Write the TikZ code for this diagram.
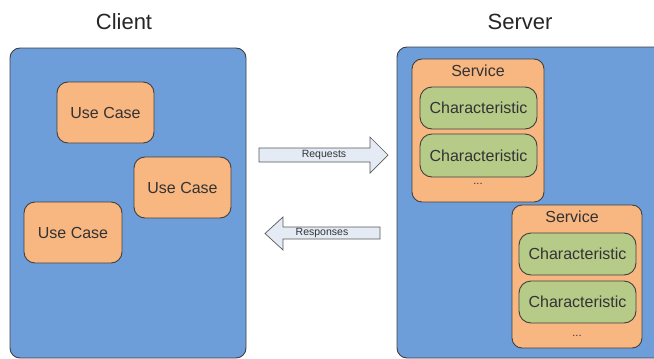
\documentclass[tikz,border=0pt]{standalone}
\usepackage{fontspec}
\setmainfont{Liberation Sans}
\begin{document}
\begin{tikzpicture}[x=1pt,y=-1pt,
  edge/.style={draw=black!75,line width=0.9pt},
  panel/.style={edge,fill=panelblue,rounded corners=10pt},
  usecase/.style={edge,fill=boxorange,rounded corners=11pt},
  service/.style={edge,fill=boxorange,rounded corners=10pt},
  charac/.style={edge,fill=chargreen,rounded corners=12pt},
  label/.style={inner sep=0pt,text=black!80,font=\fontsize{16}{18}\selectfont},
  title/.style={inner sep=0pt,text=black!85,font=\fontsize{22}{24}\selectfont},
  flow/.style={draw=black!65,line width=0.7pt,fill=arrowfill},
  flowtext/.style={inner sep=0pt,text=black!80,font=\fontsize{10.5}{12}\selectfont}
]
\definecolor{panelblue}{RGB}{110,158,218}
\definecolor{boxorange}{RGB}{248,182,128}
\definecolor{chargreen}{RGB}{183,203,136}
\definecolor{arrowfill}{RGB}{228,235,245}

\useasboundingbox (0,0) rectangle (654,359);

% titles
\node[title] (clientT) at (124,22) {Client};
\node[title] (serverT) at (520,22) {Server};

% client panel with use cases
\path[panel] (10,48) rectangle (246,358);
\path[usecase] (57,82) rectangle (154,143);
\node[label] (uc1) at (105.5,112.5) {Use Case};
\path[usecase] (134,157) rectangle (231,218);
\node[label] (uc2) at (182.5,187.5) {Use Case};
\path[usecase] (24,202) rectangle (122,263);
\node[label] (uc3) at (73,232.5) {Use Case};

% server panel
\path[panel] (397,47) rectangle (664,358);

% first service
\path[service] (412,59) rectangle (544,202);
\node[label] (s1) at (478,71) {Service};
\path[charac] (420,87) rectangle (537,129);
\node[label] (c1) at (478.5,108) {Characteristic};
\path[charac] (420,134) rectangle (537,177);
\node[label] (c2) at (478.5,155.5) {Characteristic};
\node[label,font=\fontsize{11}{12}\selectfont] (d1) at (478,184) {...};

% second service
\path[service] (512,205) rectangle (642,348);
\node[label] (s2) at (572,217) {Service};
\path[charac] (519,233) rectangle (636,275);
\node[label] (c3) at (577.5,254) {Characteristic};
\path[charac] (519,281) rectangle (636,323);
\node[label] (c4) at (577.5,302) {Characteristic};
\node[label,font=\fontsize{11}{12}\selectfont] (d2) at (577,336) {...};

% request / response arrows
\path[flow] (259,148) -- (370,148) -- (370,137) -- (388,155) -- (370,173)
  -- (370,162) -- (259,162) -- cycle;
\node[flowtext] (req) at (324,155) {Requests};
\path[flow] (380,227) -- (283,227) -- (283,217) -- (265,233.5) -- (283,250)
  -- (283,239) -- (380,239) -- cycle;
\node[flowtext] (resp) at (322,233) {Responses};
\end{tikzpicture}
\end{document}
